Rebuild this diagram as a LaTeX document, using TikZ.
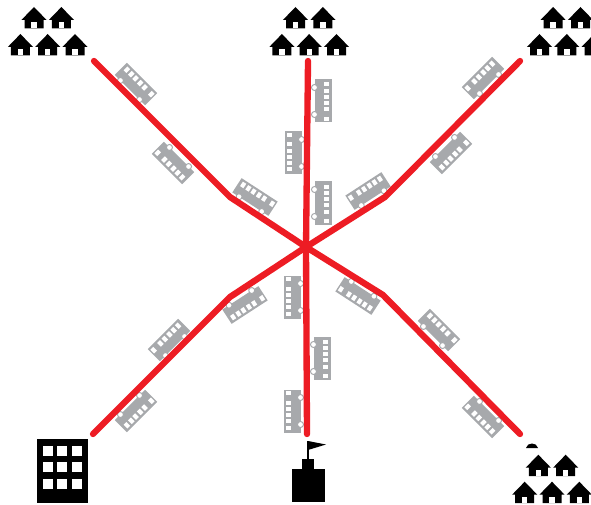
\documentclass[tikz,border=0pt]{standalone}
\usepackage{tikz}
\usetikzlibrary{positioning}

\definecolor{linered}{HTML}{ED1C24}
\definecolor{busgray}{HTML}{A7A9AC}

\tikzset{
  route/.style={linered,line width=4.5pt,line cap=round,line join=round},
  % one house, apex at the origin
  house/.pic={
    \fill[black] (-12.6,13) -- (0,0) -- (12.6,13) -- (9.5,13) -- (9.5,21.5) -- (-9.5,21.5) -- (-9.5,13) -- cycle;
    \fill[white] (-2.7,15.5) rectangle (2.7,21.5);
  },
  % two houses over three
  housegroup/.pic={
    \foreach \hx in {-13.7,13.7} \pic at (\hx,-24) {house};
    \foreach \hx in {-27.3,0,27.3} \pic at (\hx,3) {house};
  },
  % bus lying along x, wheels on the +y side
  bus/.pic={
    \fill[busgray] (-21.5,-8.5) rectangle (21.5,8.5);
    \foreach \wx in {-16.5,-10.2,-4.2,2.3,8.5,18}
      \fill[white] (\wx-2,-6.3) rectangle (\wx+2,-1);
    \foreach \wx in {-13.5,13.5}
      \filldraw[fill=white,draw=busgray,line width=0.7pt] (\wx,8.5) circle[radius=3];
  },
}

\begin{document}
\begin{tikzpicture}[x=0.025cm,y=-0.025cm]
\clip (0,0) rectangle (591,505);
% Buses: x/y/angle/flip
\foreach \bx/\by/\ang/\flip in {
  136/84/-45/1, 173/163/135/1, 255/197/-33/1,
  323/101/-90/1, 293/153/90/1, 323/203/-90/1,
  483/78/45/-1, 451/153/225/-1, 368/191/33/-1,
  245/305/213/-1, 169/340/45/-1, 136/411/225/-1,
  292/297/90/1, 322/358/-90/1, 292/411/90/1,
  358/296/147/1, 439/330/-45/1, 483/417/135/1}
  \pic[rotate=\ang,xscale=\flip] at (\bx,\by) {bus};
% Route points
\coordinate (hub) at (306,247);
\coordinate (endNW) at (94,61);
\coordinate (bendNW) at (230,197);
\coordinate (endN) at (308,61);
\coordinate (endNE) at (520,61);
\coordinate (bendNE) at (385,197);
\coordinate (endSW) at (93,434);
\coordinate (bendSW) at (230,297);
\coordinate (endS) at (307,434);
\coordinate (endSE) at (520,434);
\coordinate (bendSE) at (383,295);
% Routes
\draw[route] (endNW) -- (bendNW) -- (hub);
\draw[route] (endN) -- (hub);
\draw[route] (endNE) -- (bendNE) -- (hub);
\draw[route] (endSW) -- (bendSW) -- (hub);
\draw[route] (endS) -- (hub);
\draw[route] (endSE) -- (bendSE) -- (hub);
% Houses
\pic at (47.7,31) {housegroup};
\pic at (309.2,31) {housegroup};
\pic at (566.8,31) {housegroup};
\pic at (552,478.7) {housegroup};
\fill[black] (526,448) .. controls (527,442) and (537,442) .. (538,448) -- cycle;
% Office block
\fill[black] (37,439) rectangle (88,503);
\foreach \wx in {48,62,77}
  \foreach \wy in {451,467,484}
    \fill[white] (\wx-4.7,\wy-4.7) rectangle (\wx+4.7,\wy+4.7);
% Flag building
\fill[black] (292,469) rectangle (325,501.5);
\fill[black] (302,459) rectangle (314,469);
\fill[black] (307.2,441) rectangle (309.2,459);
\fill[black] (308,441) -- (326,444.5) -- (308,450) -- cycle;
\end{tikzpicture}
\end{document}
